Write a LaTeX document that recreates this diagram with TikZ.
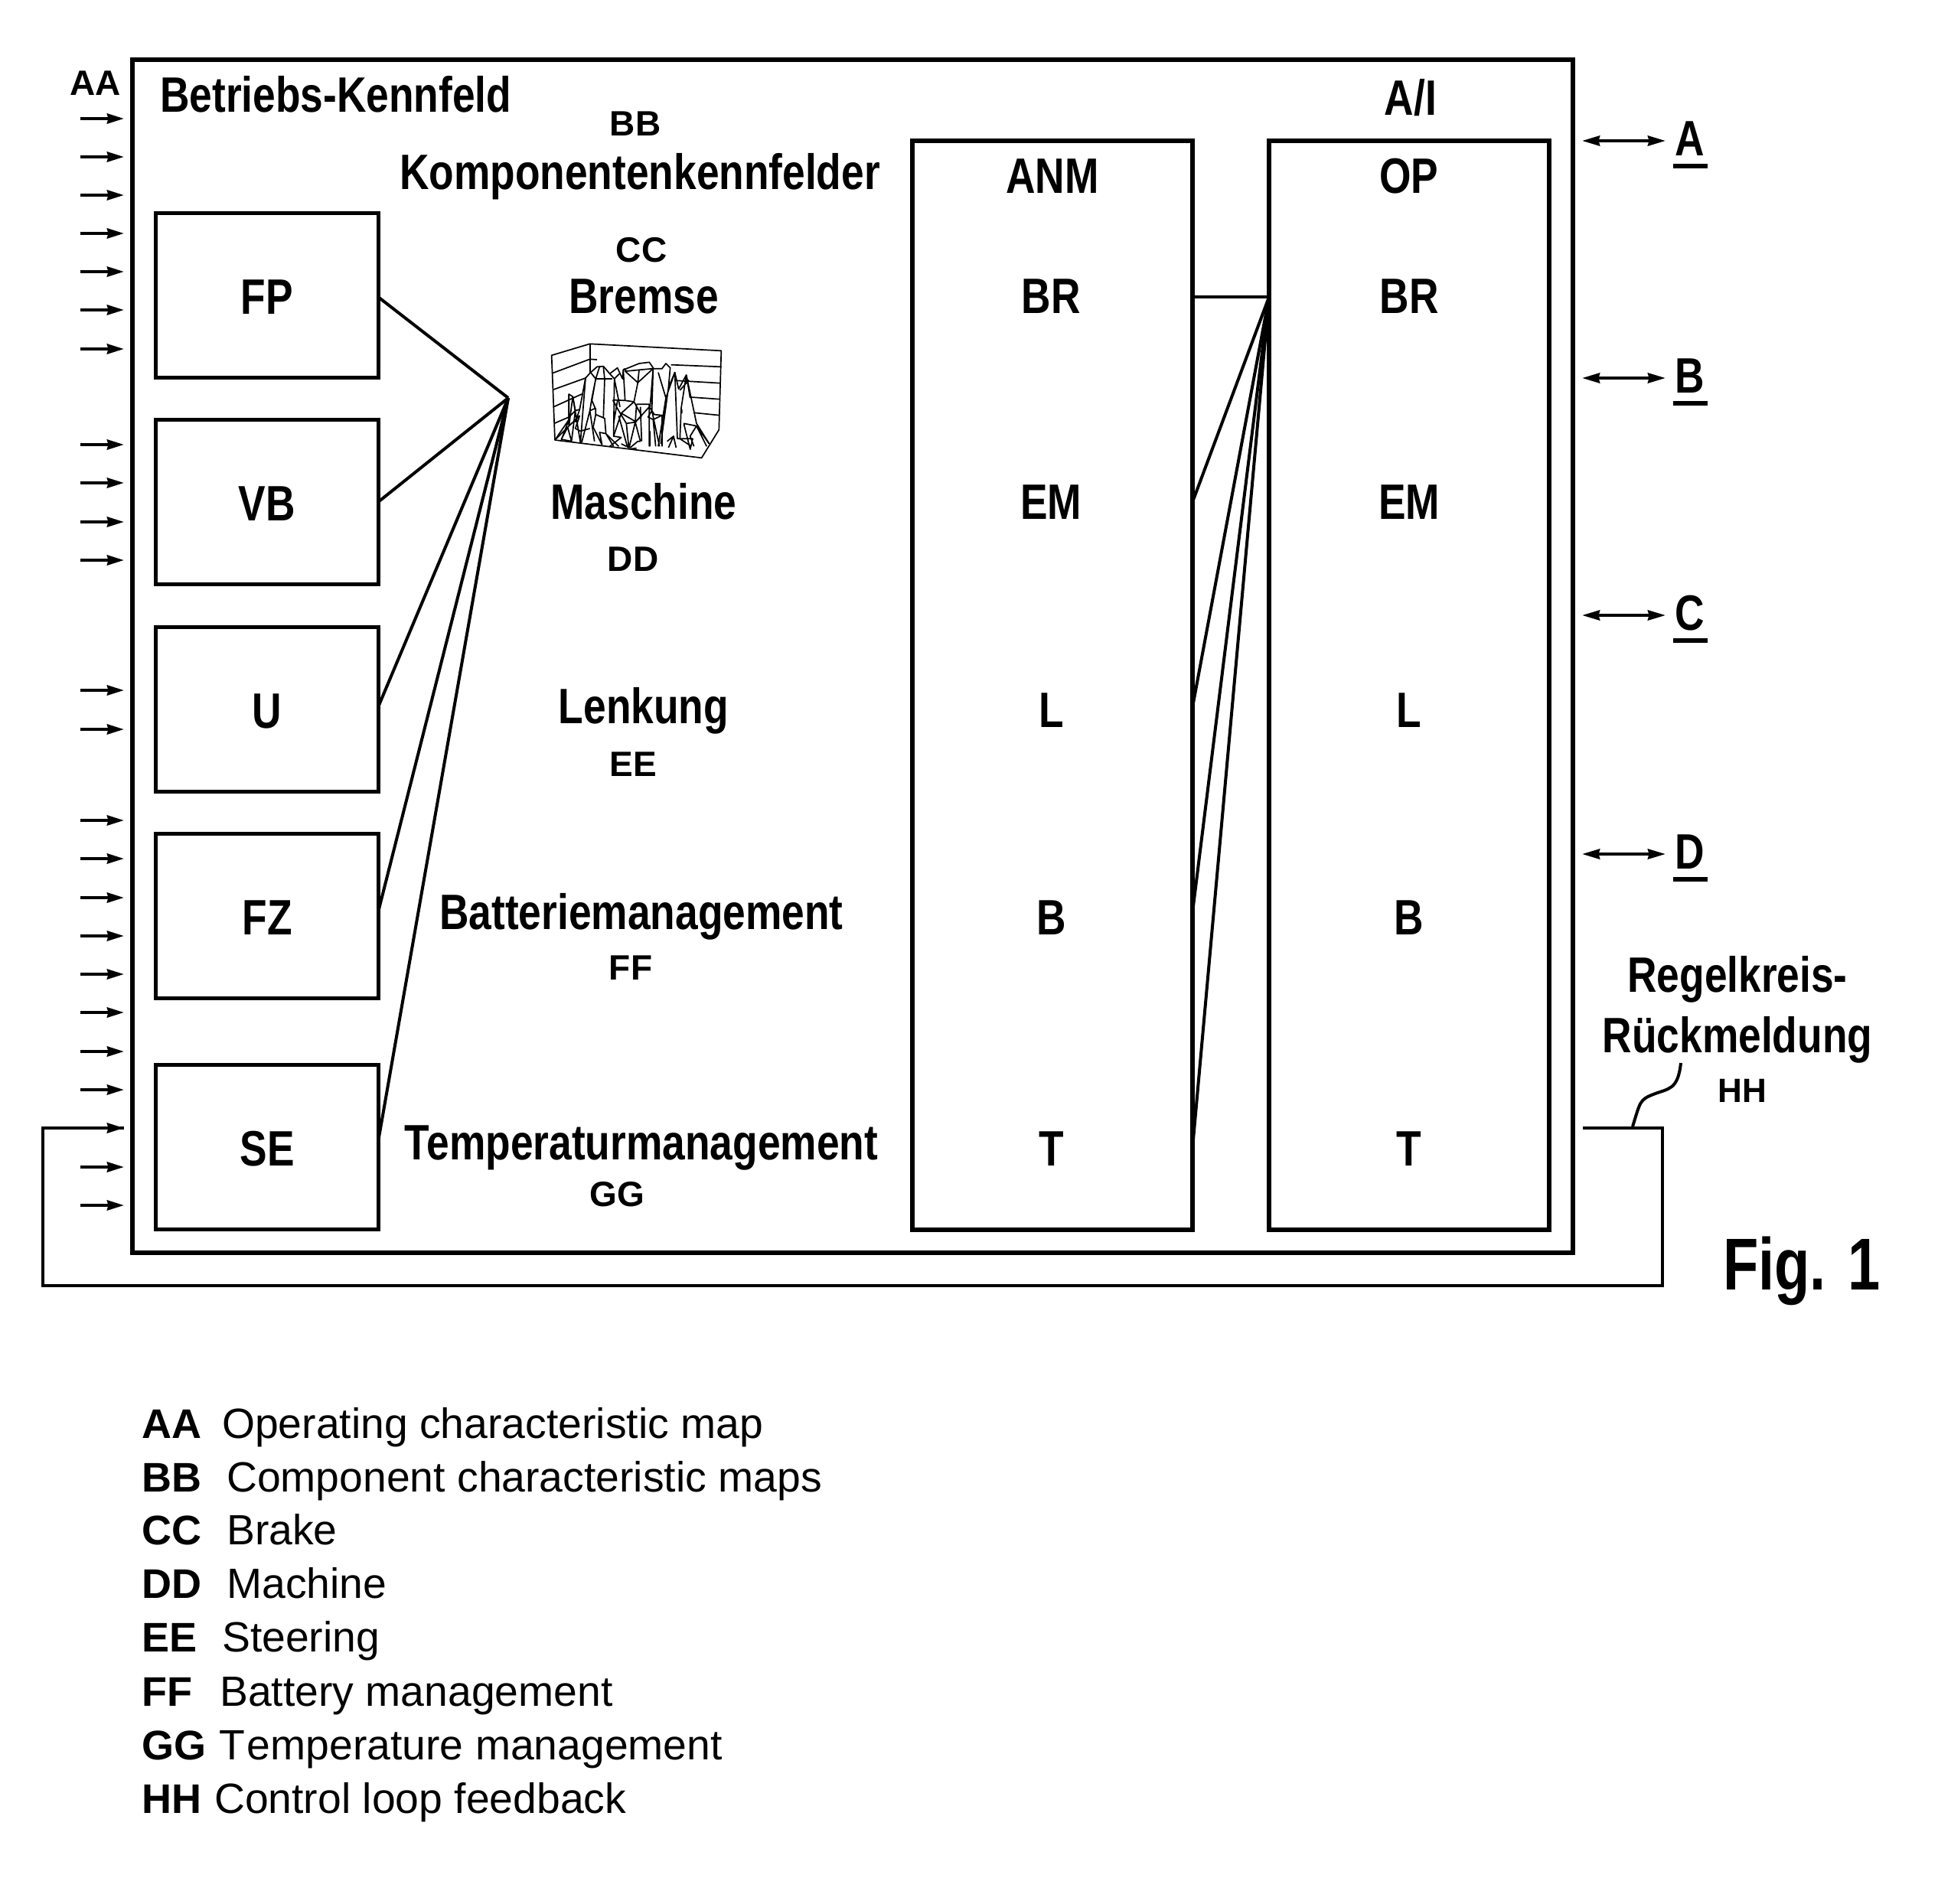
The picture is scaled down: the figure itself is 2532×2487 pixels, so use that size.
\documentclass[tikz,border=0pt]{standalone}
\usepackage{fontspec}
\usetikzlibrary{arrows.meta,calc}
\setmainfont{Liberation Sans}
\newfontfamily\condfont[FakeStretch=0.82]{Liberation Sans}
\newfontfamily\figfont[FakeStretch=0.79]{Liberation Sans}
\tikzset{
  biglabel/.style={font=\condfont\bfseries\fontsize{65}{78}\selectfont,anchor=base,inner sep=0pt},
  codelabel/.style={font=\bfseries\fontsize{46}{54}\selectfont,anchor=base,inner sep=0pt},
  legendcode/.style={font=\bfseries\fontsize{54}{64}\selectfont,anchor=base west,inner sep=0pt},
  legendtext/.style={font=\fontsize{55.3}{64}\selectfont,anchor=base west,inner sep=0pt},
  blockbox/.style={draw,line width=5pt,minimum width=291pt,minimum height=215pt,inner sep=0pt,
    text height=48pt,text depth=0pt,font=\condfont\bfseries\fontsize{65}{78}\selectfont},
  column/.style={draw,line width=6pt,minimum width=366pt,minimum height=1423pt,inner sep=0pt},
  wire/.style={line width=4pt},
  inarrow/.style={line width=4pt,-{Stealth[length=22pt,width=13pt,inset=1.5pt]}},
  bothways/.style={line width=4pt,{Stealth[length=23pt,width=13pt,inset=1.5pt]}-{Stealth[length=23pt,width=13pt,inset=1.5pt]}},
  mesh/.style={line width=1.7pt,line join=round}
}
\begin{document}
\begin{tikzpicture}[x=1pt,y=-1pt]
\useasboundingbox (0,0) rectangle (2532,2487);

% outer frame
\node[draw,line width=6pt,minimum width=1882pt,minimum height=1559pt,inner sep=0pt] (frame) at (1114,857.5) {};
\node[biglabel,anchor=base west] (title) at (209,146) {Betriebs-Kennfeld};
\node[biglabel] (ai) at (1843,150) {A/I};

% function blocks
\node[blockbox] (fp) at (349,386) {FP};
\node[blockbox] (vb) at (349,656) {VB};
\node[blockbox] (u)  at (349,927) {U};
\node[blockbox] (fz) at (349,1197) {FZ};
\node[blockbox] (se) at (349,1499) {SE};

% component map captions
\node[codelabel] (bb) at (830,177) {BB};
\node[biglabel] (komp) at (836,247) {Komponentenkennfelder};
\node[codelabel] (cc) at (838,342) {CC};
\node[biglabel] (brake) at (841,409) {Bremse};
\node[biglabel] (mach) at (841,678) {Maschine};
\node[codelabel] (dd) at (827,746) {DD};
\node[biglabel] (steer) at (841,945) {Lenkung};
\node[codelabel] (ee) at (827,1014) {EE};
\node[biglabel] (batt) at (838,1214) {Batteriemanagement};
\node[codelabel] (ff) at (824,1280) {FF};
\node[biglabel] (temp) at (838,1515) {Temperaturmanagement};
\node[codelabel] (gg) at (806,1576) {GG};

% columns
\node[column] (anm) at (1375,895.5) {};
\node[column] (op) at (1841,895.5) {};
\node[biglabel] (anmt) at (1375,252) {ANM};
\node[biglabel] (anmbr) at (1373,409) {BR};
\node[biglabel] (anmem) at (1373,678) {EM};
\node[biglabel] (anml) at (1374,950) {L};
\node[biglabel] (anmb) at (1374,1221) {B};
\node[biglabel] (anmtt) at (1374,1523) {T};
\node[biglabel] (opt) at (1841,252) {OP};
\node[biglabel] (opbr) at (1841,409) {BR};
\node[biglabel] (opem) at (1841,678) {EM};
\node[biglabel] (opl) at (1841,950) {L};
\node[biglabel] (opb) at (1841,1221) {B};
\node[biglabel] (optt) at (1841,1523) {T};

% fan-in of the blocks towards the map
\coordinate (fanleft) at (664,520);
\foreach \name/\yy in {a/388,b/656,c/924,d/1192,e/1492}{
  \coordinate (blockout\name) at (494,\yy);
  \draw[wire] (blockout\name) -- (fanleft);
}

% fan-in from the ANM column into the OP column
\coordinate (fanright) at (1658,388);
\foreach \name/\yy in {a/388,b/656,c/924,d/1192,e/1500}{
  \coordinate (anmout\name) at (1558,\yy);
  \draw[wire] (anmout\name) -- (fanright);
}

% input arrows on the left edge
\node[codelabel] (aa) at (125,124) {AA};
\foreach \yy in {155,205,255,305,355,405,456,581,631,682,732,902,953,1072,1122,1173,1223,1273,1323,1374,1424,1525,1575}{
  \coordinate (instart\yy) at (105,\yy);
  \coordinate (inend\yy) at (162,\yy);
  \draw[inarrow] (instart\yy) -- (inend\yy);
}

% bidirectional ports on the right edge, with underlined names
\foreach \lab/\yy in {A/184,B/494,C/804,D/1116}{
  \coordinate (portin\lab) at (2067,\yy);
  \coordinate (portout\lab) at (2176,\yy);
  \draw[bothways] (portin\lab) -- (portout\lab);
  \node[biglabel] (port\lab) at (2208,\yy+19) {\lab};
  \coordinate (ulstart\lab) at (2186,\yy+33);
  \coordinate (ulend\lab) at (2231,\yy+33);
  \draw[line width=6pt] (ulstart\lab) -- (ulend\lab);
}

% control loop feedback
\coordinate (fbstart) at (2068,1474);
\coordinate (fbright) at (2172,1474);
\coordinate (fbbottom) at (2172,1680);
\coordinate (fbleft) at (56,1680);
\coordinate (fbtop) at (56,1474);
\coordinate (fbend) at (162,1474);
\draw[wire,line join=miter] (fbstart) -- (fbright) -- (fbbottom) -- (fbleft) -- (fbtop) -- (fbend);
\draw[inarrow] (fbtop) -- (fbend);
\node[biglabel] (rk) at (2270,1296) {Regelkreis-};
\node[biglabel] (rm) at (2270,1375) {Rückmeldung};
\node[font=\bfseries\fontsize{44}{52}\selectfont,anchor=base,inner sep=0pt] (hh) at (2276,1440) {HH};
\coordinate (leadtop) at (2196,1389);
\coordinate (leadfoot) at (2133,1472);
\draw[line width=4pt] (leadtop) .. controls (2192,1425) and (2180,1422) .. (2160,1430)
  .. controls (2142,1437) and (2143,1440) .. (leadfoot);

\node[font=\figfont\bfseries\fontsize{96}{110}\selectfont,anchor=base west,inner sep=0pt] (figlabel) at (2251,1685) {Fig. 1};

% legend
\foreach \lab/\txt/\tx/\yy in {
  AA/Operating characteristic map/290/1879,
  BB/Component characteristic maps/296/1949,
  CC/Brake/296/2018,
  DD/Machine/296/2088,
  EE/Steering/290/2158,
  FF/Battery management/287/2229,
  GG/T\kern3pt emperature management/286/2299,
  HH/Control loop feedback/280/2369}{
  \node[legendcode] (code\lab) at (185,\yy) {\lab};
  \node[legendtext] (text\lab) at (\tx,\yy) {\txt};
}

% brake map: wire-mesh surface in its box
\begin{scope}[shift={(680,420)},x=0.3333pt,y=-0.3333pt,mesh]
  % walls
  \draw (122,133) -- (272,88) -- (787,115) -- (778,425) -- (710,535) -- (135,465) -- cycle;
  \draw (125,203) -- (272,148) (127,268) -- (255,222) (130,335) -- (240,285) (132,400) -- (190,375);
  \draw (272,88) -- (272,200);
  \draw (272,148) -- (300,150) (590,170) -- (787,178) (612,232) -- (783,242) (668,297) -- (781,305) (680,358) -- (780,368);
  % skyline
  \draw (135,465) -- (190,385) -- (190,285) -- (205,295) -- (215,350) -- (232,345) -- (255,222) -- (275,200)
    -- (300,178) -- (325,176) -- (350,205) -- (380,182) -- (400,225) -- (403,190) -- (465,165) -- (505,160)
    -- (522,185) -- (555,185) -- (570,165) -- (587,182) -- (580,260) -- (605,200) -- (620,265) -- (650,210) -- (690,400) -- (740,480);
  % ridges, left part
  \draw (160,465) -- (190,385) (190,285) -- (190,410) -- (205,295) -- (235,475) (215,350) -- (200,470)
    (160,462) -- (185,415) -- (200,470) -- (160,462) (190,410) -- (232,370) -- (215,420) -- (235,430) -- (272,420)
    (255,222) -- (235,475) (272,350) -- (240,475) (272,350) -- (290,470) (272,350) -- (295,340)
    (190,375) -- (215,350) (232,345) -- (215,395) (140,460) -- (190,410);
  % ridges, middle part
  \draw (275,200) -- (295,225) -- (280,310) -- (295,345) -- (295,365) -- (330,380) -- (335,440) -- (310,435) -- (320,485)
    (295,225) -- (310,178) (295,225) -- (360,225) (325,180) -- (330,225) -- (325,375)
    (350,205) -- (368,225) -- (388,205) (368,225) -- (390,335) (368,225) -- (365,450) -- (395,455) -- (350,490)
    (335,440) -- (365,490) (335,440) -- (385,490) (295,365) -- (285,415) -- (320,485) (295,225) -- (280,300) -- (272,350);
  \draw (410,195) -- (460,240) -- (445,315) -- (395,360) -- (365,450) (415,195) -- (465,190) -- (520,185)
    (460,240) -- (520,185) (465,190) -- (460,240) (403,190) -- (410,310) -- (445,315)
    (362,308) -- (410,310) (362,308) -- (385,350) -- (415,400) -- (450,395) -- (505,335)
    (455,325) -- (505,325) -- (505,490) (455,325) -- (450,395) -- (470,470) (415,400) -- (425,498) -- (450,395)
    (385,370) -- (420,495) (395,360) -- (455,395) (430,495) -- (460,470) -- (470,470)
    (380,312) -- (365,400) (405,185) -- (415,195) (445,315) -- (475,370) -- (450,395) (470,335) -- (475,470)
    (395,480) -- (415,490) (430,500) -- (455,497);
  % ridges, right part
  \draw (520,185) -- (515,350) -- (545,490) (505,335) -- (525,365) -- (555,368) -- (560,395) (515,350) -- (500,375) -- (520,385) -- (555,368)
    (520,385) -- (530,490) (605,200) -- (570,300) -- (540,490) (605,200) -- (615,460) (580,260) -- (550,480)
    (555,368) -- (555,490) (650,210) -- (630,340) -- (625,460) -- (670,490) (665,300) -- (650,210)
    (640,400) -- (690,410) -- (740,480) (640,400) -- (665,500) (690,410) -- (665,450) -- (680,490)
    (575,470) -- (600,450) -- (610,495) (600,450) -- (580,495) (615,460) -- (675,460) -- (665,503) (690,410) -- (730,490)
    (520,185) -- (508,335) (508,430) -- (508,490) (540,200) -- (570,300) (632,345) -- (632,360) (660,230) -- (625,270);
\end{scope}
\end{tikzpicture}
\end{document}
